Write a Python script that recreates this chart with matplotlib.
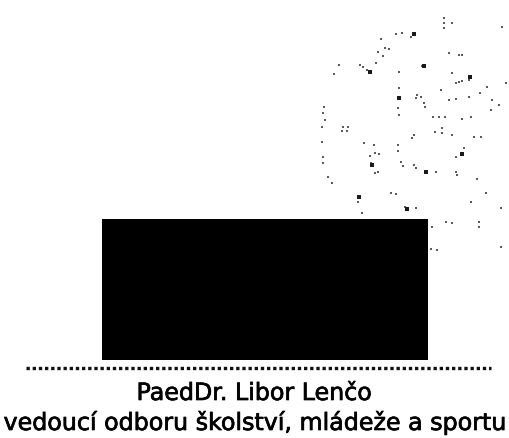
import matplotlib
matplotlib.use("Agg")
import matplotlib.pyplot as plt
import matplotlib.patheffects as pe
from matplotlib.patches import Rectangle

# Content of the signature block (pixel coordinates of the scan)
name_line = "PaedDr. Libor Lenčo"
title_line = "vedoucí odboru školství, mládeže a sportu"
redaction_box = [102, 219, 428, 360]  # x0, y0, x1, y1
dots_y = 368
dots_x_range = [26, 491]

# faint stamp specks (scan residue) in the upper right
speck_x = [396, 402, 381, 385, 389, 378, 383, 376, 370, 367, 363, 360, 334, 339,
           399, 399, 399, 398, 399, 324, 323, 325, 322, 343, 348,
           444, 444, 452, 444, 414, 411, 502, 424, 422, 449, 459, 462, 452, 470,
           469, 456, 459, 462, 487, 480, 506, 417, 421, 416, 424, 425, 449, 456,
           469, 441, 492, 499, 491, 433, 439, 445, 462, 471, 442,
           342, 347, 322, 323, 323, 328, 332, 364, 374, 370, 379, 375, 372, 371,
           375, 378, 398, 398, 401, 403, 359, 358, 362, 407, 405, 391, 396,
           412, 414, 435, 442, 452, 474, 481, 464, 462, 456, 414, 416, 426, 436,
           456, 457, 477, 486, 471, 416, 501, 446, 452, 432, 479, 479, 431, 437, 501]
speck_y = [34, 33, 39, 48, 49, 52, 56, 63, 72, 70, 67, 65, 74, 65,
           72, 88, 98, 108, 115, 107, 113, 120, 127, 127, 127,
           18, 23, 23, 28, 34, 37, 27, 66, 66, 53, 55, 55, 73, 77,
           80, 83, 82, 81, 87, 93, 83, 95, 97, 98, 103, 107, 100, 99,
           97, 90, 100, 105, 110, 117, 117, 117, 119, 117, 128,
           131, 131, 142, 163, 157, 177, 183, 143, 145, 156, 154, 153, 165, 163,
           173, 172, 145, 151, 162, 166, 197, 202, 213, 209, 207, 193, 194,
           138, 135, 132, 133, 135, 137, 137, 148, 154, 157, 165, 168, 172, 172,
           172, 175, 179, 193, 202, 208, 208, 222, 223, 227, 222, 227, 249, 250, 247]
dark_x = [370, 399, 414, 424, 470, 462, 426, 372, 407, 359]
dark_y = [72, 98, 34, 66, 77, 154, 172, 165, 209, 197]

W, H = 509, 438
fig = plt.figure(figsize=(W / 100, H / 100), dpi=100)
ax = fig.add_axes([0, 0, 1, 1])
ax.set_xlim(0, W)
ax.set_ylim(H, 0)
ax.axis("off")

ax.plot(speck_x, speck_y, linestyle="none", marker="s", markersize=1.5,
        markeredgewidth=0, color="#5a5a5a")
ax.plot(dark_x, dark_y, linestyle="none", marker="s", markersize=2.6,
        markeredgewidth=0, color="#1a1a1a")

x0, y0, x1, y1 = redaction_box
ax.add_patch(Rectangle((x0, y0), x1 - x0, y1 - y0, facecolor="black", edgecolor="none"))

ax.plot(dots_x_range, [dots_y, dots_y], color="#111111", linewidth=2.4,
        linestyle=(0, (1.0, 0.85)), solid_capstyle="butt", dash_capstyle="butt")

thick = [pe.withStroke(linewidth=0.5, foreground="black")]
ax.text(254, 400, name_line, ha="center", va="baseline", fontsize=17.1,
        family="DejaVu Sans", color="black", path_effects=thick)
ax.text(254, 430, title_line, ha="center", va="baseline", fontsize=17.1,
        family="DejaVu Sans", color="black", path_effects=thick)

fig.savefig("out.png", dpi=100)
